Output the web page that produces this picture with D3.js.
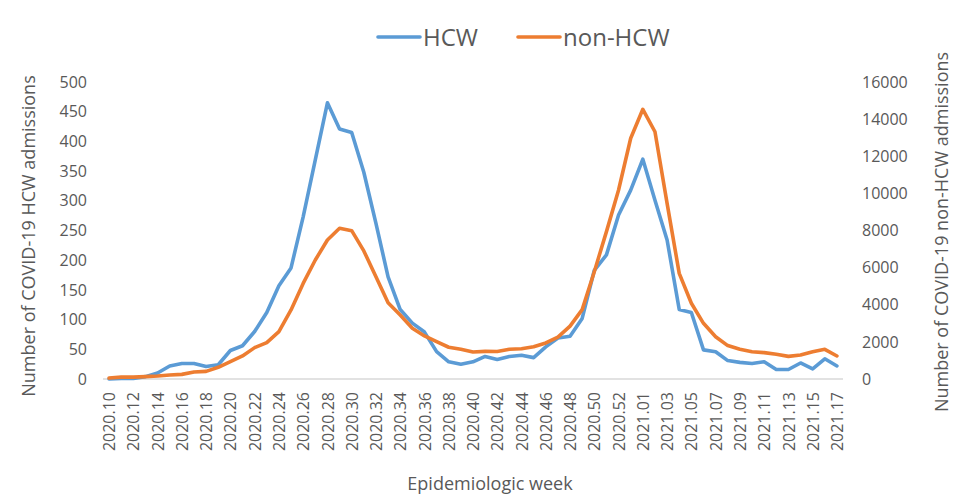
<!DOCTYPE html>
<html>
<head>
<meta charset="utf-8">
<script src="https://cdn.jsdelivr.net/npm/d3@7"></script>
<style>
body { margin: 0; background: #fff; }
text { font-family: "Open Sans", "Noto Sans", sans-serif; fill: #595959; }
</style>
</head>
<body>
<script>
// chart size
var W = 954, H = 503;
var left = 103, right = 843, top_y = 82, base_y = 379;

// weeks 2020.10 .. 2020.53, then 2021.01 .. 2021.17
var weeks = [
	'2020.10','2020.11','2020.12','2020.13','2020.14','2020.15','2020.16','2020.17','2020.18','2020.19',
	'2020.20','2020.21','2020.22','2020.23','2020.24','2020.25','2020.26','2020.27','2020.28','2020.29',
	'2020.30','2020.31','2020.32','2020.33','2020.34','2020.35','2020.36','2020.37','2020.38','2020.39',
	'2020.40','2020.41','2020.42','2020.43','2020.44','2020.45','2020.46','2020.47','2020.48','2020.49',
	'2020.50','2020.51','2020.52','2020.53','2021.01','2021.02','2021.03','2021.04','2021.05','2021.06',
	'2021.07','2021.08','2021.09','2021.10','2021.11','2021.12','2021.13','2021.14','2021.15','2021.16',
	'2021.17'
];

var hcw = [
	0, 1, 1, 4, 10, 22, 26, 26, 21, 24,
	48, 56, 80, 112, 157, 187, 273, 369, 465, 421,
	415, 348, 262, 172, 117, 94, 79, 46, 29, 25,
	29, 38, 33, 38, 40, 36, 54, 69, 72, 102,
	183, 209, 276, 318, 370, 301, 234, 117, 112, 49,
	46, 31, 28, 26, 29, 16, 16, 27, 17, 34,
	22
];

var nonHcw = [
	50, 100, 100, 130, 160, 215, 250, 375, 410, 630,
	930, 1240, 1690, 1960, 2550, 3720, 5150, 6410, 7490, 8120,
	7990, 6900, 5510, 4110, 3450, 2730, 2320, 2010, 1710, 1600,
	1455, 1490, 1480, 1600, 1630, 1740, 1940, 2260, 2850, 3740,
	5780, 7940, 10180, 12970, 14530, 13320, 9460, 5690, 4080, 3000,
	2280, 1800, 1600, 1470, 1420, 1330, 1220, 1290, 1470, 1600,
	1240
];

var leftTicks = [0, 50, 100, 150, 200, 250, 300, 350, 400, 450, 500];
var rightTicks = [0, 2000, 4000, 6000, 8000, 10000, 12000, 14000, 16000];

var svg = d3.select('body').append('svg')
	.attr('width', W)
	.attr('height', H);

var x = d3.scalePoint()
	.domain(weeks)
	.range([left, right])
	.padding(0.5);

var yL = d3.scaleLinear().domain([0, 500]).range([base_y, top_y]);
var yR = d3.scaleLinear().domain([0, 16000]).range([base_y, top_y]);

// baseline
svg.append('line')
	.attr('x1', left).attr('x2', right)
	.attr('y1', base_y).attr('y2', base_y)
	.attr('stroke', '#d9d9d9').attr('stroke-width', 1.3);

// left axis
var axL = svg.append('g')
	.attr('transform', 'translate(' + (left - 16) + ',0)')
	.call(d3.axisLeft(yL).tickValues(leftTicks).tickSize(0).tickPadding(0));
axL.select('.domain').remove();
axL.selectAll('text').attr('font-size', '16px').attr('fill', '#595959');

// right axis
var axR = svg.append('g')
	.attr('transform', 'translate(' + (right + 19) + ',0)')
	.call(d3.axisRight(yR).tickValues(rightTicks).tickFormat(d3.format('d')).tickSize(0).tickPadding(0));
axR.select('.domain').remove();
axR.selectAll('text').attr('font-size', '16px').attr('fill', '#595959');

// x axis labels, every second week
var xLabels = weeks.filter(function(d, i){ return i % 2 == 0; });
var axX = svg.append('g')
	.attr('transform', 'translate(0,' + base_y + ')')
	.call(d3.axisBottom(x).tickValues(xLabels).tickSize(0).tickPadding(0));
axX.select('.domain').remove();
axX.selectAll('text')
	.attr('font-size', '16px')
	.attr('fill', '#595959')
	.attr('transform', 'rotate(-90)')
	.attr('text-anchor', 'end')
	.attr('x', -13)
	.attr('y', 0)
	.attr('dy', '0.35em');

// lines
var lineL = d3.line().x(function(d, i){ return x(weeks[i]); }).y(function(d){ return yL(d); });
var lineR = d3.line().x(function(d, i){ return x(weeks[i]); }).y(function(d){ return yR(d); });

svg.append('path').datum(hcw)
	.attr('d', lineL)
	.attr('fill', 'none').attr('stroke', '#5B9BD5')
	.attr('stroke-width', 3.6).attr('stroke-linejoin', 'round').attr('stroke-linecap', 'round');

svg.append('path').datum(nonHcw)
	.attr('d', lineR)
	.attr('fill', 'none').attr('stroke', '#ED7D31')
	.attr('stroke-width', 3.6).attr('stroke-linejoin', 'round').attr('stroke-linecap', 'round');

// axis titles
svg.append('text')
	.attr('transform', 'translate(35,' + 236 + ') rotate(-90)')
	.attr('text-anchor', 'middle')
	.attr('font-size', '18px')
	.text('Number of COVID-19 HCW admissions');

svg.append('text')
	.attr('transform', 'translate(948,' + 232 + ') rotate(-90)')
	.attr('text-anchor', 'middle')
	.attr('font-size', '18px')
	.text('Number of COVID-19 non-HCW admissions');

svg.append('text')
	.attr('x', 490).attr('y', 490)
	.attr('text-anchor', 'middle')
	.attr('font-size', '18px')
	.text('Epidemiologic week');

// legend
var legend = [
	{name: 'HCW', color: '#5B9BD5', x: 378},
	{name: 'non-HCW', color: '#ED7D31', x: 518}
];
var lg = svg.selectAll('.legend').data(legend).enter().append('g').attr('class', 'legend');
lg.append('line')
	.attr('x1', function(d){ return d.x; }).attr('x2', function(d){ return d.x + 42; })
	.attr('y1', 37).attr('y2', 37)
	.attr('stroke', function(d){ return d.color; })
	.attr('stroke-width', 3.6).attr('stroke-linecap', 'round');
lg.append('text')
	.attr('x', function(d){ return d.x + 45; })
	.attr('y', 46)
	.attr('font-size', '24px')
	.text(function(d){ return d.name; });
</script>
</body>
</html>
